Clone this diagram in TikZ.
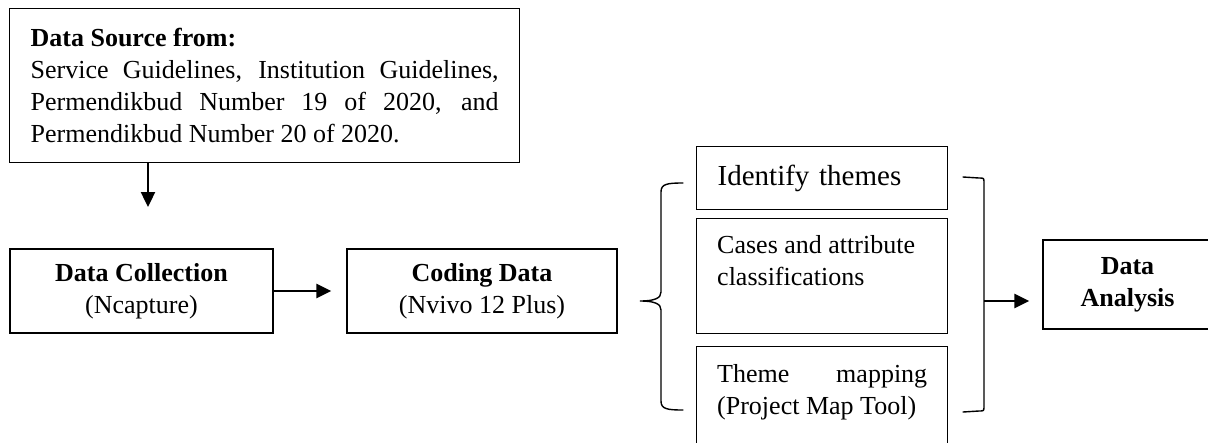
\documentclass[tikz,border=0pt]{standalone}
\usepackage{fontspec}
\setmainfont{Liberation Serif}
\usetikzlibrary{arrows.meta}
\tikzset{
  box/.style={draw, line width=1.3pt, inner sep=0pt},
  txt/.style={font=\fontsize{26}{32}\selectfont},
  arr/.style={-{Triangle[length=15pt,width=14pt]}, line width=2.4pt},
  brace/.style={line width=1.4pt, line cap=round}
}
\begin{document}
\begin{tikzpicture}[x=1pt,y=-1pt]
\useasboundingbox (0,0) rectangle (1208,442);
\clip (0,0) rectangle (1208,442);

% top source box
\node[box, txt, anchor=north west, minimum width=510pt, minimum height=154pt,
      text width=468pt, inner xsep=21pt, align=justify] (source) at (9,8)
  {{\bfseries Data Source from:}\\
   Service Guidelines, Institution Guidelines,\linebreak
   Permendikbud Number 19 of 2020, and\linebreak
   Permendikbud Number 20 of 2020.};

% left row
\node[box, txt, minimum width=263pt, minimum height=84pt, align=center] (collect) at (141.5,291)
  {{\bfseries Data Collection}\\(Ncapture)};
\node[box, txt, minimum width=270pt, minimum height=84pt, align=center] (coding) at (482,291)
  {{\bfseries Coding Data}\\(Nvivo 12 Plus)};

% middle column
\node[box, font=\fontsize{29}{32}\selectfont, anchor=north west, minimum width=251pt,
      minimum height=63pt, text width=209pt, inner xsep=21pt, align=left] (identify) at (696,146)
  {Identify themes};
\node[box, anchor=north west, minimum width=251pt, minimum height=115pt] (cases) at (696,218) {};
\node[txt, anchor=north west, inner sep=0pt, align=left] (casestext) at (717,235.6)
  {Cases and attribute\\classifications};
\node[box, anchor=north west, minimum width=251pt, minimum height=120pt] (mapping) at (696,346) {};
\node[txt, anchor=north west, inner sep=0pt, text width=210pt, align=justify] (mappingtext) at (717,364.5)
  {Theme mapping\linebreak (Project Map Tool)};

% right box
\node[box, font=\fontsize{26}{32}\selectfont\bfseries, minimum width=169pt, minimum height=89pt, align=center] (analysis) at (1127.5,284.5)
  {Data\\Analysis};

% braces
\draw[brace] (683,183) .. controls (667,183) and (661,184) .. (661,192) -- (661,292)
  .. controls (661,298) and (655,301) .. (640,301)
  .. controls (655,301) and (661,304) .. (661,310) -- (661,401)
  .. controls (661,409) and (667,410) .. (683,410);
\draw[brace] (963,177) -- (979,178) .. controls (984,178) .. (984,183) -- (984,406)
  .. controls (984,411) .. (979,411) -- (963,412);

% connectors
\coordinate (dn) at (148,207);
\draw[arr] (source.south -| dn) -- (dn);
\draw[arr, shorten >=15pt] (collect.east) -- (coding.west);
\coordinate (rb) at (984,301);
\draw[arr, shorten >=13pt] (rb) -- (rb -| analysis.west);
\end{tikzpicture}
\end{document}
